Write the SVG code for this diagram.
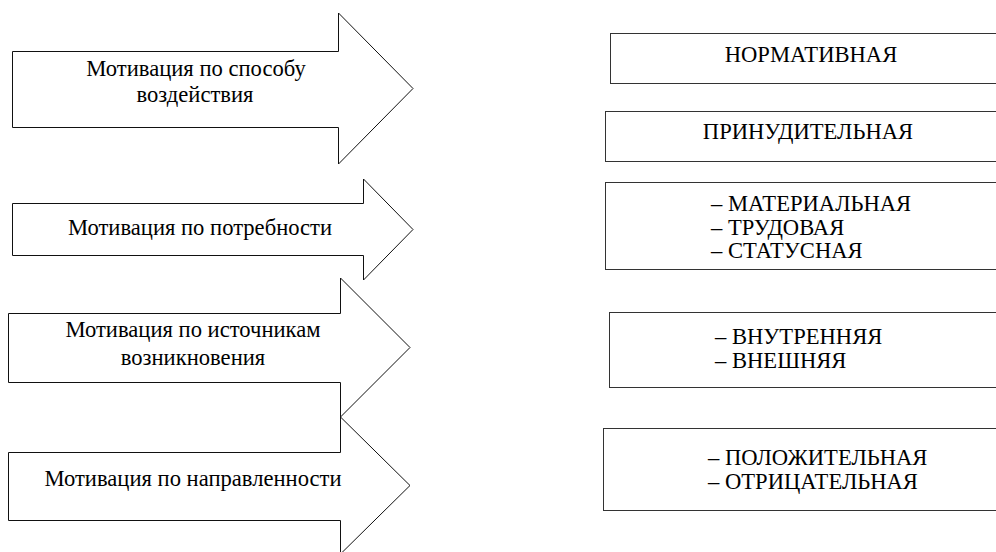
<svg xmlns="http://www.w3.org/2000/svg" width="996" height="552" viewBox="0 0 996 552">
<style>
.arrow{fill:#fff;stroke:#111;stroke-width:1;stroke-linejoin:miter}
.box{fill:#fff;stroke:#333;stroke-width:1}
.c{text-anchor:middle}
</style>
<rect width="996" height="552" fill="#fff"/>
<g id="connectors"></g>
<g font-family="'Liberation Serif', 'Times New Roman', 'DejaVu Serif', serif" font-size="22.6" fill="#000">
<g id="arrow1">
<polygon class="arrow" points="12.5,51.5 338.5,51.5 338.5,13 413,88.5 338.5,164 338.5,127.5 12.5,127.5"/>
<text class="c" x="196" y="76">Мотивация по способу</text>
<text class="c" x="195" y="102">воздействия</text>
</g>
<g id="arrow2">
<polygon class="arrow" points="12.5,203.5 363.5,203.5 363.5,179 413,229.5 363.5,280 363.5,255.5 12.5,255.5"/>
<text class="c" x="200" y="235">Мотивация по потребности</text>
</g>
<g id="arrow3">
<polygon class="arrow" points="8.5,313.5 340.5,313.5 340.5,278 410,347.5 340.5,417 340.5,382.5 8.5,382.5"/>
<text class="c" x="193" y="337">Мотивация по источникам</text>
<text class="c" x="193" y="365">возникновения</text>
</g>
<g id="arrow4">
<polygon class="arrow" points="8.5,452.5 340.5,452.5 340.5,417 410,485.5 340.5,554 340.5,520.5 8.5,520.5"/>
<text class="c" x="193" y="486">Мотивация по направленности</text>
</g>
<g id="box1">
<rect class="box" x="610.5" y="33.5" width="400" height="50"/>
<text class="c" x="811" y="62">НОРМАТИВНАЯ</text>
</g>
<g id="box2">
<rect class="box" x="605.5" y="111.5" width="400" height="50"/>
<text class="c" x="808" y="139">ПРИНУДИТЕЛЬНАЯ</text>
</g>
<g id="box3">
<rect class="box" x="605.5" y="182.5" width="400" height="87"/>
<text x="711" y="211">– МАТЕРИАЛЬНАЯ</text>
<text x="711" y="234.5">– ТРУДОВАЯ</text>
<text x="711" y="258">– СТАТУСНАЯ</text>
</g>
<g id="box4">
<rect class="box" x="609.5" y="312.5" width="400" height="75"/>
<text x="715" y="344">– ВНУТРЕННЯЯ</text>
<text x="715" y="368">– ВНЕШНЯЯ</text>
</g>
<g id="box5">
<rect class="box" x="603.5" y="428.5" width="400" height="82"/>
<text x="708" y="465">– ПОЛОЖИТЕЛЬНАЯ</text>
<text x="708" y="489">– ОТРИЦАТЕЛЬНАЯ</text>
</g>
</g>
</svg>
